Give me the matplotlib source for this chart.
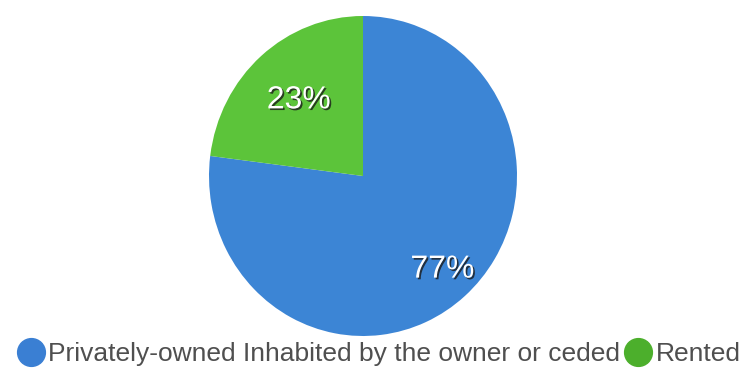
import matplotlib
matplotlib.use('Agg')
import matplotlib.pyplot as plt
import matplotlib.patheffects as pe
from matplotlib.lines import Line2D
import numpy as np

plt.rcParams['font.family'] = ['Liberation Sans', 'DejaVu Sans']

labels = ['Privately-owned Inhabited by the owner or ceded', 'Rented']
values = [77, 23]
colors = ['#3c85d5', '#5cc43a']
legend_colors = ['#3a7fd3', '#4caf2c']
label_dist = [0.78, 0.63]

fig = plt.figure(figsize=(7.5, 3.7), dpi=100)
W, H = 750, 370
cx, cy, rw, rh = 363, 176, 154, 160
ax = fig.add_axes([(cx - rw) / W, (H - cy - rh) / H, 2 * rw / W, 2 * rh / H])

wedges, _ = ax.pie(values, colors=colors, startangle=90, counterclock=False,
                   radius=1, wedgeprops=dict(linewidth=0))
ax.set_aspect('auto')
ax.set_xlim(-1, 1)
ax.set_ylim(-1, 1)

for w, v, d in zip(wedges, values, label_dist):
    ang = np.deg2rad((w.theta1 + w.theta2) / 2)
    ax.text(d * np.cos(ang), d * np.sin(ang), '%d%%' % v,
            ha='center', va='center', color='white', fontsize=23,
            path_effects=[pe.withSimplePatchShadow(offset=(1.2, -1.2),
                                                   shadow_rgbFace='#1a1a1a', alpha=0.8)])

handles = [Line2D([], [], marker='o', linestyle='', markersize=20,
                  markerfacecolor=c, markeredgecolor=c) for c in legend_colors]
fig.legend(handles, labels, loc='center', bbox_to_anchor=(379 / W, 1 - 354 / H),
           ncol=2, frameon=False, fontsize=19, handletextpad=0.15,
           columnspacing=0.2, handlelength=1.0, labelcolor='#4f4f4f')

fig.savefig('out.png', dpi=100)
